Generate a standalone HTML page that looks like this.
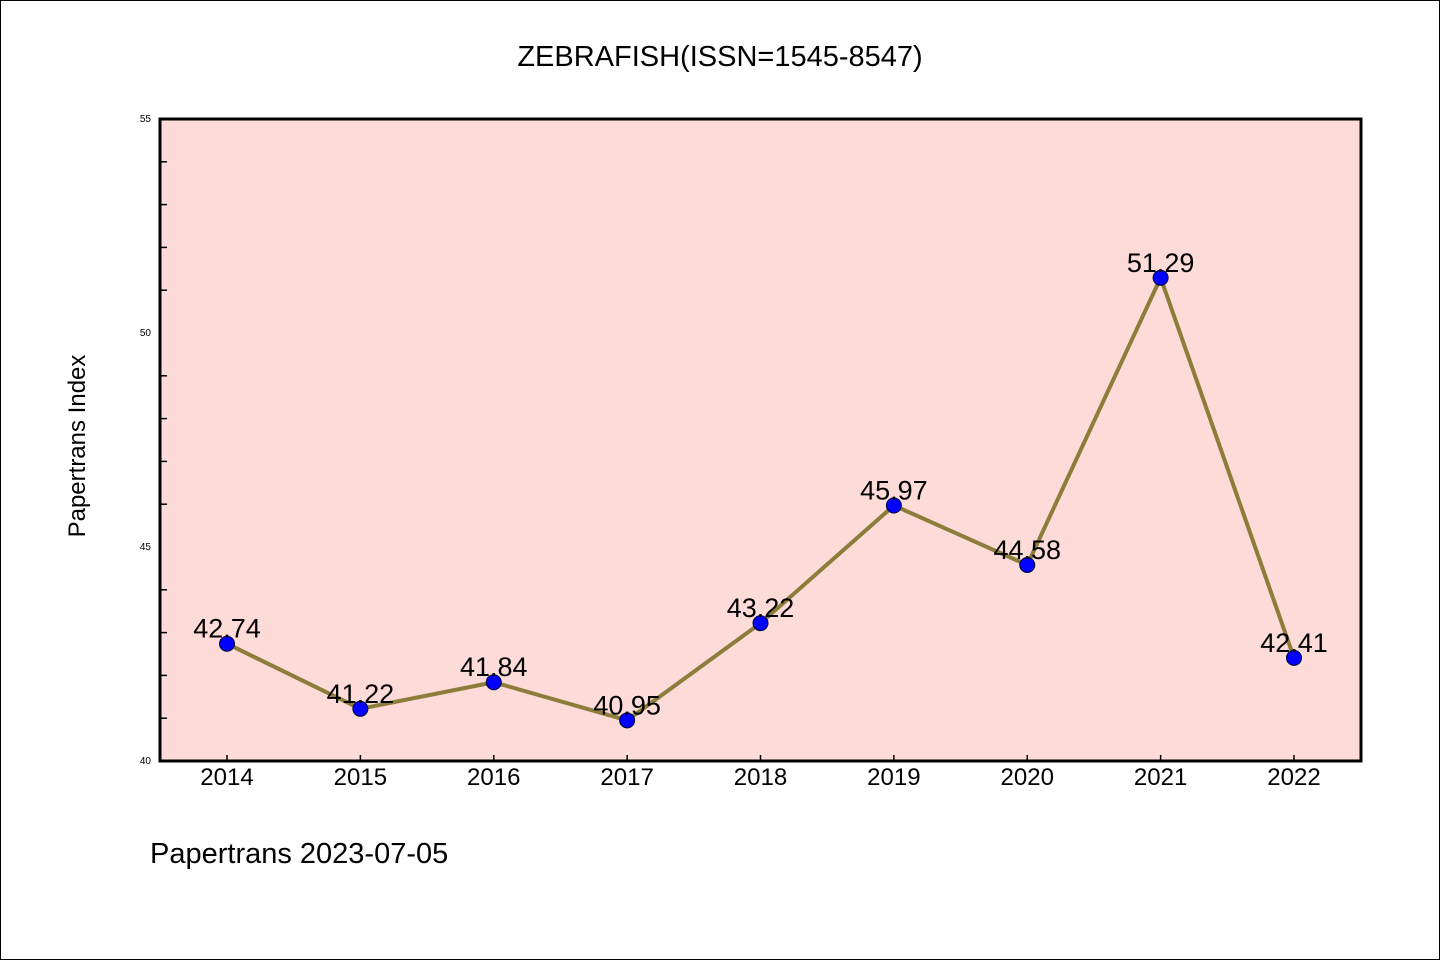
<!DOCTYPE html>
<html><head><meta charset="utf-8"><style>
body{margin:0;background:#fff;}
svg text{font-family:"WenQuanYi Zen Hei","Liberation Sans",sans-serif;}
</style></head><body>
<svg width="1440" height="960" viewBox="0 0 1440 960">
<rect x="0.5" y="0.5" width="1439" height="959" fill="#fff" stroke="#000" stroke-width="1"/>
<text x="720" y="66" font-size="29" text-anchor="middle">ZEBRAFISH(ISSN=1545-8547)</text>
<rect x="160" y="119" width="1201" height="642" fill="#fddbd8"/>
<g id="axes"></g>
<g id="series"></g>
<rect x="160" y="119" width="1201" height="642" fill="none" stroke="#000" stroke-width="3"/>
<text transform="translate(85,446) rotate(-90)" font-size="24" text-anchor="middle">Papertrans Index</text>
<text x="150" y="863" font-size="29">Papertrans 2023-07-05</text>
</svg>
<script>
const years = ["2014","2015","2016","2017","2018","2019","2020","2021","2022"];
const values = [42.74,41.22,41.84,40.95,43.22,45.97,44.58,51.29,42.41];
const valueLabels = ["42.74","41.22","41.84","40.95","43.22","45.97","44.58","51.29","42.41"];
const yTickLabels = ["40","45","50","55"];
const yMin = 40, yMax = 55;
const NS = "http://www.w3.org/2000/svg";
const xS = i => 227 + i * (1294 - 227) / (years.length - 1);
const yS = v => 761 - (v - yMin) / (yMax - yMin) * 642;
function mk(tag, attrs, parent){const e=document.createElementNS(NS,tag);for(const k in attrs)e.setAttribute(k,attrs[k]);parent.appendChild(e);return e;}
const ax = document.getElementById('axes');
for (let v = yMin; v <= yMax; v++) {
  const y = yS(v);
  const t = mk('line',{x1:160,x2:160+((v%5===0)?0:7),y1:y,y2:y,stroke:'#000','stroke-width':1.5},ax);
  
  
}
yTickLabels.forEach(l => {
  const t = mk('text',{x:151,y:yS(+l)+3,'font-size':10,'text-anchor':'end'},ax);
  t.textContent = l;
  
  
});
years.forEach((yr,i) => {
  const x = xS(i);
  const tk = mk('line',{x1:x,x2:x,y1:755,y2:761,stroke:'#000','stroke-width':1.5},ax);
  
  
  const t = mk('text',{x:x,y:785,'font-size':24,'text-anchor':'middle'},ax);
  t.textContent = yr;
  
  
});
const sg = document.getElementById('series');
const pl = mk('polyline',{points:values.map((v,i)=>xS(i)+','+yS(v)).join(' '),fill:'none',stroke:'#8c7d3a','stroke-width':4,'stroke-linejoin':'round'},sg);


values.forEach((v,i) => {
  const c = mk('circle',{cx:xS(i),cy:yS(v),r:7.5,fill:'#0000ff',stroke:'#000033','stroke-width':1},sg);
  
  
  const t = mk('text',{x:xS(i),y:yS(v)-6,'font-size':27,'text-anchor':'middle'},sg);
  t.textContent = valueLabels[i];
  
  
});
</script>
</body></html>
